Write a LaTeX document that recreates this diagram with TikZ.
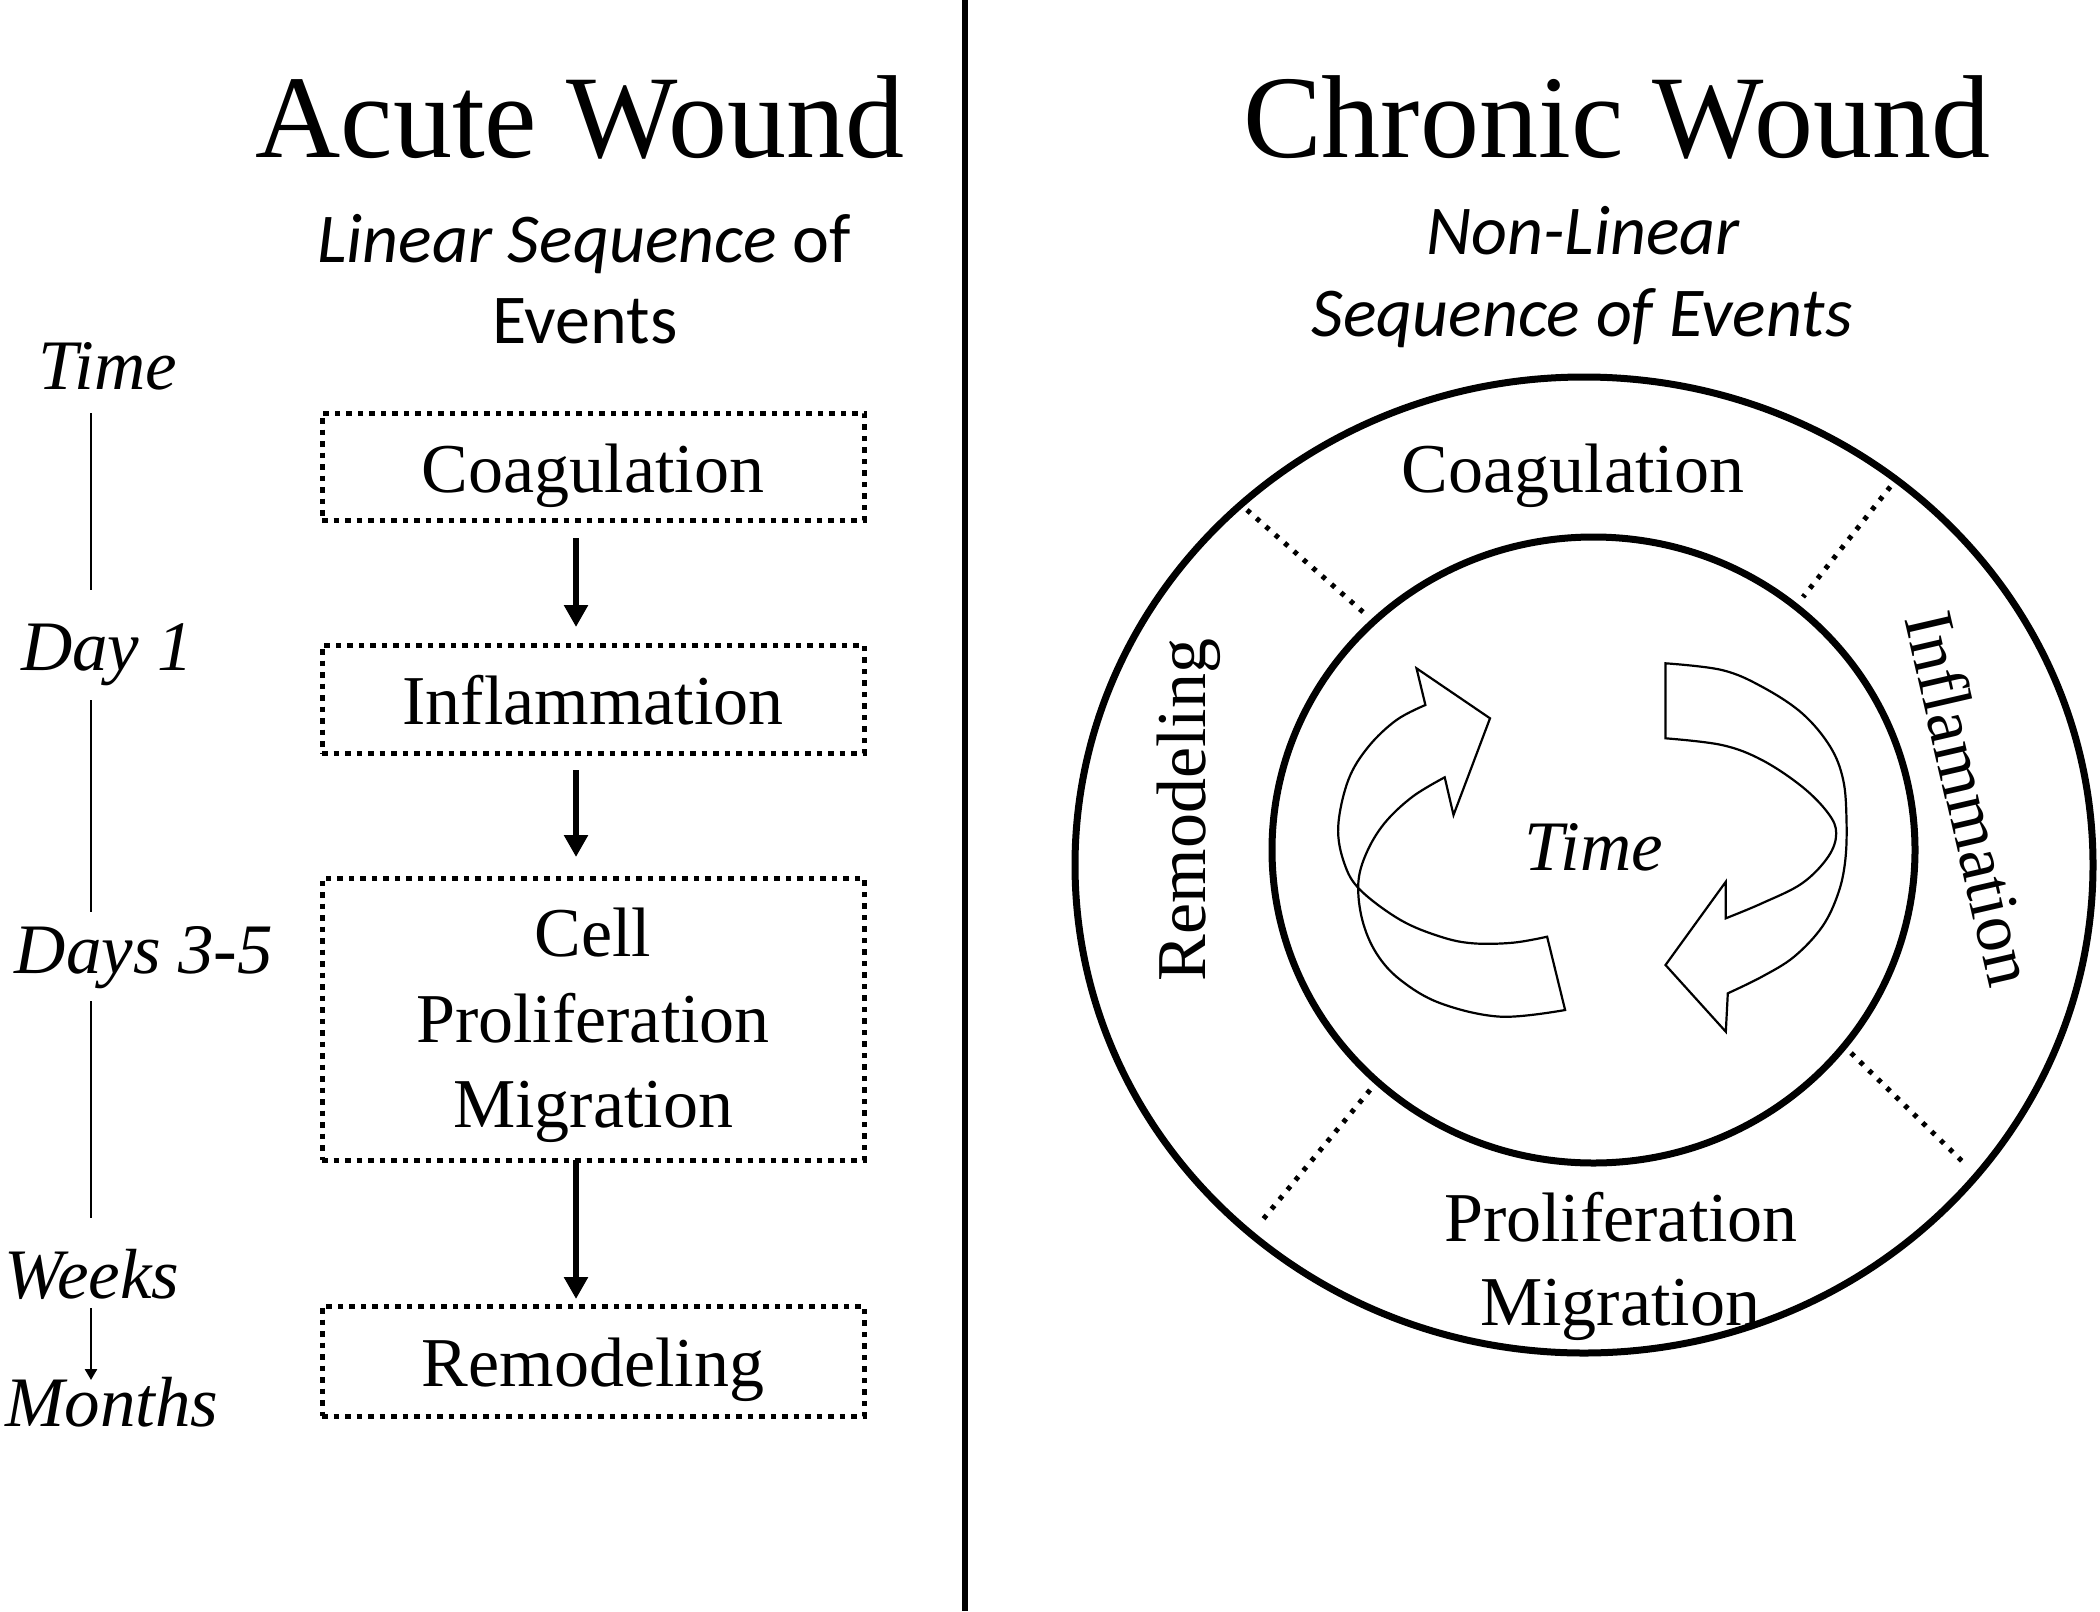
\documentclass[tikz,border=0pt]{standalone}
\usepackage{fontspec}
\setmainfont{Liberation Serif}
\newfontfamily\calfont{Carlito}
\usetikzlibrary{arrows.meta}
\begin{document}
\begin{tikzpicture}[x=1pt,y=-1pt,
  every node/.style={inner sep=0pt, outer sep=0pt},
  title/.style={font=\fontsize{118}{130}\selectfont, anchor=base},
  sub/.style={font=\calfont\fontsize{70}{82}\selectfont, anchor=base},
  subit/.style={font=\calfont\itshape\fontsize{70}{82}\selectfont, anchor=base},
  tlab/.style={font=\itshape\fontsize{71}{80}\selectfont, anchor=base},
  stagebox/.style={draw, line width=5pt, dash pattern=on 5.5pt off 6pt,
    minimum width=542pt, font=\fontsize{70}{85.5}\selectfont, align=center},
  stageone/.style={stagebox, text height=66pt, text depth=15pt},
  flow/.style={line width=5.5pt, -{Triangle[length=22pt,width=23pt]}},
  axis/.style={line width=2.5pt},
  ring/.style={line width=7pt},
  sep/.style={line width=5pt, dash pattern=on 4.5pt off 8pt},
  ribbon/.style={line width=2.2pt, line join=miter},
  lbl/.style={font=\fontsize{70}{84}\selectfont, anchor=base}
]
\useasboundingbox (0,0) rectangle (2100,1611);
\fill[white] (0,0) rectangle (2100,1611);

% divider
\coordinate (dtop) at (965,0);
\coordinate (dbot) at (965,1611);
\draw[line width=6pt] (dtop) -- (dbot);

% titles
\node[title] (acute) at (580,157) {Acute Wound};
\node[title] (chronic) at (1617,157) {Chronic Wound};
\node[sub] (lin1) at (584,262) {{\itshape Linear Sequence} of};
\node[sub] (lin2) at (585,343) {Events};
\node[subit] (nl1) at (1583,254) {Non-Linear};
\node[subit] (nl2) at (1582,336) {Sequence of Events};

% time axis
\node[tlab] (t0) at (108,389) {Time};
\node[tlab] (t1) at (107,670) {Day 1};
\node[tlab] (t2) at (144,973) {Days 3-5};
\node[tlab] (t3) at (92,1298) {Weeks};
\node[tlab] (t4) at (112,1426) {Months};
\coordinate (a0) at (91,413);
\coordinate (a1) at (91,590);
\coordinate (a2) at (91,700);
\coordinate (a3) at (91,912);
\coordinate (a4) at (91,1001);
\coordinate (a5) at (91,1218);
\coordinate (a6) at (91,1308);
\coordinate (a7) at (91,1380);
\draw[axis] (a0) -- (a1);
\draw[axis] (a2) -- (a3);
\draw[axis] (a4) -- (a5);
\draw[axis, -{Triangle[length=11pt,width=12pt]}] (a6) -- (a7);

% acute boxes
\node[stageone, minimum height=107pt] (b1) at (593,466.5) {Coagulation};
\node[stageone, minimum height=108pt] (b2) at (593,699) {Inflammation};
\node[stagebox, minimum height=282pt] (b3) at (593,1019)
  {\rule{0pt}{62pt}Cell\\Proliferation\\Migration};
\node[stageone, minimum height=110pt] (b4) at (593,1361) {Remodeling};
\draw[flow] ([xshift=-17pt,yshift=-18pt]b1.south) -- ([xshift=-17pt,yshift=18pt]b2.north);
\draw[flow] ([xshift=-17pt,yshift=-17pt]b2.south) -- ([xshift=-17pt,yshift=21pt]b3.north);
\draw[flow] ([xshift=-17pt]b3.south) -- ([xshift=-17pt,yshift=7pt]b4.north);

% chronic rings
\draw[ring] (1584,865) ellipse [x radius=509pt, y radius=488pt];
\draw[ring] (1593.5,850) ellipse [x radius=321.5pt, y radius=313pt];
\draw[sep] (1247,510) -- (1363,612);
\draw[sep] (1898,477) -- (1803,597);
\draw[sep] (1851,1053) -- (1964,1163);
\draw[sep] (1370,1090) -- (1260,1223);

\node[lbl] (cc) at (1573,492) {Coagulation};
\node[lbl, rotate=-77] (ci) at (1947,804) {Inflammation};
\node[lbl, rotate=90] (cr) at (1205,810) {Remodeling};
\node[lbl] (cp1) at (1621,1241) {Proliferation};
\node[lbl] (cp2) at (1620,1325) {Migration};
\node[lbl, font=\itshape\fontsize{71}{80}\selectfont] (ct) at (1594,870) {Time};

% left ribbon arrow (pointing up-right)
\draw[ribbon] plot[smooth, tension=0.6] coordinates {
  (1425.4,705) (1396.5,720) (1368.4,746.7) (1348.3,780) (1338.2,826.7)
  (1344.3,863.3) (1360.3,890) (1400.5,920) (1440.6,936.7) (1472.8,943.3)
  (1512.9,942.7) (1547.1,936.7)}
  -- (1565.1,1010)
  -- plot[smooth, tension=0.6] coordinates {
  (1565.1,1010) (1500.9,1016.7) (1440.6,1003.3) (1400.5,980) (1376.4,953.3)
  (1362.3,920) (1358.3,883.3) (1366.3,853.3) (1384.4,823.3) (1412.5,796.7)
  (1444.7,777.3)}
  -- (1453.5,815) -- (1490,718.3) -- (1416.5,668.3) -- cycle;

% right ribbon arrow (pointing down-left)
\draw[ribbon] plot[smooth, tension=0.6] coordinates {
  (1665.5,663.3) (1721.8,670) (1761.9,686.7) (1802.1,713.3) (1830.2,746.7)
  (1843.2,780) (1846.5,820) (1845.3,860) (1838.2,893.3) (1822.2,926.7)
  (1794.1,956.7) (1761.9,976.7) (1727.8,993.3)}
  -- (1725.8,1031.7) -- (1665.5,965) -- (1725.8,881.7)
  -- plot[smooth, tension=0.6] coordinates {
  (1725.8,918.3) (1761.9,903.3) (1802.1,883.3) (1828.2,856.7) (1836.2,833.3)
  (1828.2,813.3) (1802.1,786.7) (1761.9,760) (1721.8,745) (1665.5,738.3)}
  -- cycle;
\end{tikzpicture}
\end{document}
